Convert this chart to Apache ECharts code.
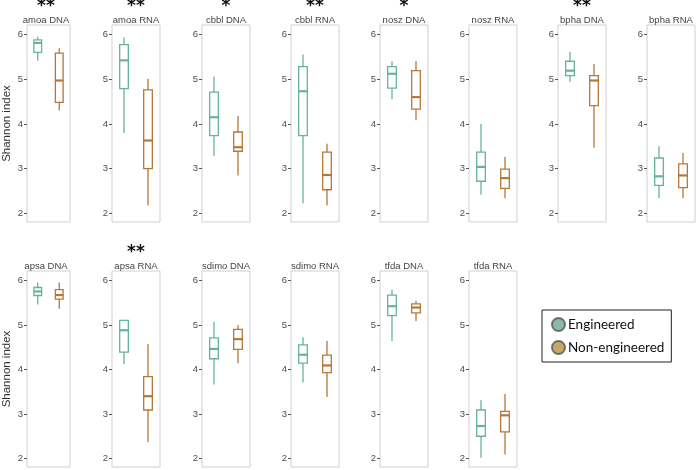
<!DOCTYPE html>
<html>
<head>
<meta charset="utf-8">
<script src="https://cdn.jsdelivr.net/npm/echarts@6/dist/echarts.min.js"></script>
<style>
  html, body { margin: 0; padding: 0; background: #fff; }
  #chart { width: 696px; height: 470px; }
</style>
</head>
<body>
<div id="chart"></div>
<script>
// panels, in reading order
var panelNames = ['amoa DNA', 'amoa RNA', 'cbbl DNA', 'cbbl RNA', 'nosz DNA', 'nosz RNA', 'bpha DNA', 'bpha RNA',
                  'apsa DNA', 'apsa RNA', 'sdimo DNA', 'sdimo RNA', 'tfda DNA', 'tfda RNA'];
var stars = ['**', '**', '*', '**', '*', '', '**', '',
             '', '**', '', '', '', ''];
var groups = ['Engineered', 'Non-engineered'];
// [min, Q1, median, Q3, max]
var engineered = [
    [5.41, 5.60, 5.81, 5.88, 5.95],
    [3.80, 4.79, 5.42, 5.77, 5.93],
    [3.29, 3.74, 4.15, 4.71, 5.06],
    [2.23, 3.74, 4.73, 5.28, 5.55],
    [4.55, 4.80, 5.12, 5.28, 5.40],
    [2.42, 2.72, 3.04, 3.37, 4.00],
    [4.94, 5.08, 5.19, 5.40, 5.61],
    [2.34, 2.63, 2.83, 3.24, 3.50],
    [5.46, 5.66, 5.75, 5.84, 5.95],
    [4.12, 4.39, 4.88, 5.10, 5.10],
    [3.66, 4.24, 4.46, 4.71, 5.07],
    [3.71, 4.14, 4.33, 4.55, 4.72],
    [4.64, 5.21, 5.42, 5.67, 5.79],
    [2.02, 2.50, 2.73, 3.09, 3.31]
];
var nonEngineered = [
    [4.30, 4.48, 4.97, 5.58, 5.69],
    [2.18, 3.00, 3.63, 4.76, 5.01],
    [2.85, 3.39, 3.48, 3.82, 4.18],
    [2.18, 2.53, 2.86, 3.37, 3.56],
    [4.08, 4.33, 4.60, 5.19, 5.40],
    [2.34, 2.56, 2.79, 2.99, 3.26],
    [3.47, 4.41, 4.97, 5.08, 5.34],
    [2.34, 2.58, 2.85, 3.11, 3.35],
    [5.36, 5.58, 5.67, 5.79, 5.95],
    [2.37, 3.09, 3.40, 3.84, 4.57],
    [4.14, 4.45, 4.68, 4.90, 5.00],
    [3.38, 3.93, 4.09, 4.32, 4.64],
    [5.09, 5.27, 5.39, 5.47, 5.54],
    [2.09, 2.60, 2.97, 3.06, 3.45]
];
var yTicks = [2, 3, 4, 5, 6];

var colors = ['#66b39c', '#b5783a'];
var legendColors = ['#6aa894', '#b8913f'];

var myChart = echarts.init(document.getElementById('chart'));

var colLeft = [22, 112, 202, 291, 380, 469, 558, 647];
var rowTop = [25, 271];
var panelW = 48, panelH = 197;

// 画一个箱线图（没有须端横线，中位线加粗）
function renderBox(params, api) {
    var idx = api.value(0);
    var x = api.coord([idx, api.value(3)])[0];
    var yMin = api.coord([idx, api.value(1)])[1];
    var yQ1 = api.coord([idx, api.value(2)])[1];
    var yMed = api.coord([idx, api.value(3)])[1];
    var yQ3 = api.coord([idx, api.value(4)])[1];
    var yMax = api.coord([idx, api.value(5)])[1];
    var half = api.size([1, 0])[0] * 0.18;
    var c = colors[idx];
    return {
        type: 'group',
        children: [
            { type: 'line', shape: { x1: x, y1: yMax, x2: x, y2: yQ3 }, style: { stroke: c, lineWidth: 1.3 } },
            { type: 'line', shape: { x1: x, y1: yQ1, x2: x, y2: yMin }, style: { stroke: c, lineWidth: 1.3 } },
            { type: 'rect', shape: { x: x - half, y: yQ3, width: half * 2, height: yQ1 - yQ3 },
              style: { stroke: c, lineWidth: 1.3, fill: '#fff' } },
            { type: 'line', shape: { x1: x - half, y1: yMed, x2: x + half, y2: yMed }, style: { stroke: c, lineWidth: 2.2 } }
        ]
    };
}

var grids = [], xAxes = [], yAxes = [], series = [], graphics = [];

panelNames.forEach(function (name, i) {
    var row = i < 8 ? 0 : 1;
    var col = row === 0 ? i : i - 8;
    var left = colLeft[col];
    var top = rowTop[row];
    grids.push({
        left: left, top: top, width: panelW, height: panelH - row,
        show: true, borderColor: '#cfcfcf', borderWidth: 1, backgroundColor: '#fff'
    });
    xAxes.push({
        gridIndex: i, type: 'category', data: groups, show: false
    });
    yAxes.push({
        gridIndex: i, type: 'value', min: 1.81, max: 6.21,
        name: col === 0 ? 'Shannon index' : '',
        nameLocation: 'middle', nameGap: 14,
        nameTextStyle: { fontSize: 11.5, color: '#333', fontFamily: 'Liberation Sans' },
        axisLine: { show: false },
        axisTick: { show: true, length: 3, customValues: yTicks, lineStyle: { color: '#555' } },
        axisLabel: { customValues: yTicks, fontSize: 9.5, color: '#4d4d4d', margin: 4, fontFamily: 'Liberation Sans' },
        splitLine: { show: false }
    });
    series.push({
        type: 'custom',
        name: name,
        xAxisIndex: i,
        yAxisIndex: i,
        renderItem: renderBox,
        encode: { x: 0, y: [1, 2, 3, 4, 5] },
        data: [[0].concat(engineered[i]), [1].concat(nonEngineered[i])]
    });
    graphics.push({
        type: 'text', x: left + panelW / 2, y: top - 5,
        style: { text: name, fontSize: 9.5, fill: '#444', align: 'center', verticalAlign: 'middle', fontFamily: 'Liberation Sans' }
    });
    if (stars[i]) {
        graphics.push({
            type: 'text', x: left + panelW / 2, y: top - 18,
            style: { text: stars[i], fontSize: 17, fontWeight: 'bold', fill: '#111', align: 'center', verticalAlign: 'middle', fontFamily: 'DejaVu Sans' }
        });
    }
});

// 图例用的空系列
groups.forEach(function (g, k) {
    series.push({
        type: 'scatter', name: g, xAxisIndex: 0, yAxisIndex: 0, data: [],
        itemStyle: { color: legendColors[k], borderColor: '#555', borderWidth: 0.8 }
    });
});

option = {
    animation: false,
    grid: grids,
    xAxis: xAxes,
    yAxis: yAxes,
    series: series,
    graphic: graphics,
    legend: {
        data: groups,
        orient: 'vertical',
        left: 542, top: 310,
        icon: 'circle',
        itemWidth: 13, itemHeight: 13, itemGap: 8,
        padding: [7, 7, 7, 9],
        borderColor: '#222', borderWidth: 1,
        textStyle: { fontSize: 13.5, color: '#111', fontFamily: 'Lato', padding: [0, 0, 0, -2] }
    }
};

myChart.setOption(option);
</script>
</body>
</html>
